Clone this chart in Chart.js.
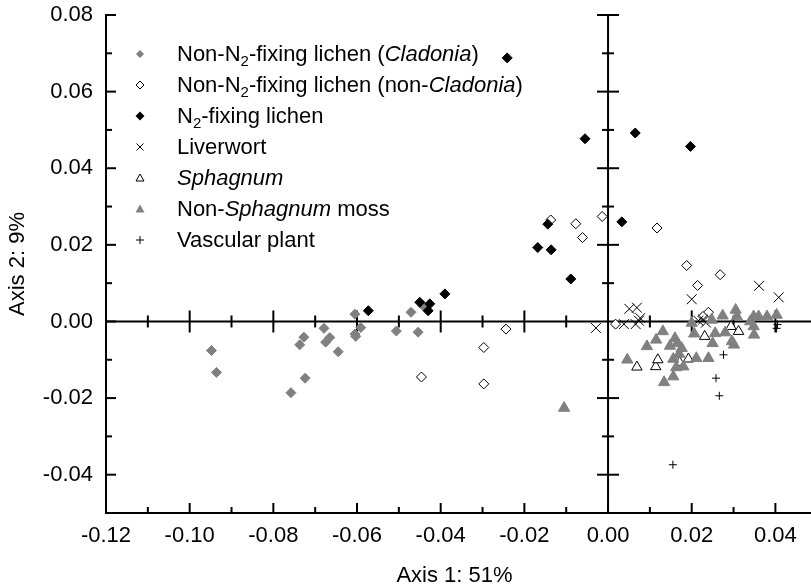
<!DOCTYPE html>
<html lang="en">
<head>
<meta charset="UTF-8">
<title>Ordination – Axis 1 vs Axis 2</title>
<script src="https://cdn.jsdelivr.net/npm/chart.js"></script>
<style>
  body { margin: 0; background: #fff; }
  #wrap { position: relative; width: 811px; height: 585px; font-family: "Liberation Sans", Arial, sans-serif; }
  #legend { position: absolute; left: 0; top: 38px; font-size: 22px; color: #000; }
  #legend .row { position: relative; height: 31px; line-height: 31px; white-space: nowrap; }
  #legend svg { position: absolute; left: 133px; top: 9px; }
  #legend span { position: absolute; left: 177px; }
  #legend sub { font-size: 15px; vertical-align: -5px; line-height: 0; }
</style>
</head>
<body>
<div id="wrap">
  <canvas id="chart" width="811" height="585"></canvas>
  <div id="legend">
    <div class="row"><svg width="14" height="14"><path d="M7 3 L11 7 L7 11 L3 7 Z" fill="#808080"/></svg><span>Non-N<sub>2</sub>-fixing lichen (<i>Cladonia</i>)</span></div>
    <div class="row"><svg width="14" height="14"><path d="M7 3 L11 7 L7 11 L3 7 Z" fill="#fff" stroke="#000" stroke-width="1"/></svg><span>Non-N<sub>2</sub>-fixing lichen (non-<i>Cladonia</i>)</span></div>
    <div class="row"><svg width="14" height="14"><path d="M7 2.5 L11.5 7 L7 11.5 L2.5 7 Z" fill="#000"/></svg><span>N<sub>2</sub>-fixing lichen</span></div>
    <div class="row"><svg width="14" height="14"><path d="M3.5 3.5 L10.5 10.5 M10.5 3.5 L3.5 10.5" stroke="#000" stroke-width="1"/></svg><span>Liverwort</span></div>
    <div class="row"><svg width="14" height="14"><path d="M7 3 L11 10 L3 10 Z" fill="#fff" stroke="#000" stroke-width="1"/></svg><span><i>Sphagnum</i></span></div>
    <div class="row"><svg width="14" height="14"><path d="M7 2.5 L11.5 10.5 L2.5 10.5 Z" fill="#808080"/></svg><span>Non-<i>Sphagnum</i> moss</span></div>
    <div class="row"><svg width="14" height="14"><path d="M7 3 L7 11 M3 7 L11 7" stroke="#000" stroke-width="1"/></svg><span>Vascular plant</span></div>
  </div>
</div>
<script>
// tick labels
const xTicks = [-0.12, -0.10, -0.08, -0.06, -0.04, -0.02, 0.00, 0.02, 0.04];
const yTicks = [-0.04, -0.02, 0.00, 0.02, 0.04, 0.06, 0.08];

// scores: [axis1, axis2]
const cladonia = [
  [-0.0948, -0.0076], [-0.0936, -0.0133], [-0.0758, -0.0186], [-0.0724, -0.0148],
  [-0.0737, -0.0061], [-0.0727, -0.0041], [-0.0679, -0.0018], [-0.0675, -0.0054],
  [-0.0665, -0.0042], [-0.0645, -0.0079], [-0.0605, 0.0019], [-0.0591, -0.0016],
  [-0.0605, -0.0033], [-0.0603, -0.0039], [-0.0506, -0.0025], [-0.0471, 0.0024],
  [-0.0454, -0.0028], [-0.0442, 0.0041]
];
const nonCladonia = [
  [-0.0446, -0.0145], [-0.0297, -0.0068], [-0.0297, -0.0163], [-0.0244, -0.0020],
  [-0.0137, 0.0265], [-0.0077, 0.0255], [-0.0061, 0.0219], [-0.0014, 0.0274],
  [0.0018, -0.0007], [0.0117, 0.0244], [0.0188, 0.0146], [0.0268, 0.0122],
  [0.0214, 0.0094], [0.0240, 0.0024], [0.0227, 0.0013]
];
const n2Fixing = [
  [-0.0573, 0.0028], [-0.0450, 0.0050], [-0.0426, 0.0046], [-0.0430, 0.0028],
  [-0.0390, 0.0072], [-0.0241, 0.0688], [-0.0168, 0.0193], [-0.0136, 0.0187],
  [-0.0144, 0.0254], [-0.0089, 0.0111], [-0.0055, 0.0477], [0.0033, 0.0260],
  [0.0065, 0.0492], [0.0197, 0.0457]
];
const liverwort = [
  [-0.0029, -0.0017], [0.0051, 0.0033], [0.0069, 0.0036], [0.0077, 0.0009],
  [0.0038, -0.0007], [0.0066, -0.0007], [0.0074, 0.0002], [0.0200, 0.0058],
  [0.0216, 0.0002], [0.0234, -0.0003], [0.0227, 0.0005], [0.0361, 0.0093],
  [0.0408, 0.0063]
];
const sphagnum = [
  [0.0069, -0.0119], [0.0114, -0.0118], [0.0119, -0.0100], [0.0171, -0.0107],
  [0.0192, -0.0098], [0.0231, -0.0039], [0.0294, -0.0013], [0.0312, -0.0026]
];
const moss = [
  [-0.0105, -0.0226], [0.0046, -0.0100], [0.0093, -0.0065], [0.0115, -0.0048],
  [0.0131, -0.0026], [0.0134, -0.0159], [0.0156, -0.0144], [0.0160, -0.0044],
  [0.0148, -0.0064], [0.0166, -0.0057], [0.0176, -0.0070], [0.0156, -0.0098],
  [0.0180, -0.0118], [0.0211, -0.0096], [0.0200, -0.0004], [0.0206, -0.0032],
  [0.0240, -0.0096], [0.0250, -0.0057], [0.0256, -0.0031], [0.0248, 0.0004],
  [0.0274, 0.0015], [0.0280, -0.0029], [0.0296, -0.0052], [0.0301, -0.0061],
  [0.0305, 0.0030], [0.0308, 0.0013], [0.0348, 0.0013], [0.0348, -0.0013],
  [0.0349, -0.0035], [0.0360, 0.0013], [0.0380, 0.0013], [0.0403, 0.0017],
  [0.0340, 0.0000], [0.0163, -0.0120], [0.0170, -0.0085]
];
const vascular = [
  [0.0276, -0.0087], [0.0258, -0.0148], [0.0266, -0.0194], [0.0403, -0.0018],
  [0.0405, -0.0008], [0.0155, -0.0374]
];

const GREY = '#808080';
const FONT = '"Liberation Sans", Arial, sans-serif';

function pts(arr) { return arr.map(p => ({ x: p[0], y: p[1] })); }

const series = [
  { label: 'Non-N2-fixing lichen (Cladonia)', data: pts(cladonia), pointStyle: 'rectRot', pointRadius: 5, backgroundColor: GREY, borderColor: GREY, borderWidth: 1 },
  { label: 'Non-N2-fixing lichen (non-Cladonia)', data: pts(nonCladonia), pointStyle: 'rectRot', pointRadius: 5, backgroundColor: '#fff', borderColor: '#000', borderWidth: 1 },
  { label: 'N2-fixing lichen', data: pts(n2Fixing), pointStyle: 'rectRot', pointRadius: 5, backgroundColor: '#000', borderColor: '#000', borderWidth: 1 },
  { label: 'Liverwort', data: pts(liverwort), pointStyle: 'crossRot', pointRadius: 7, backgroundColor: '#000', borderColor: '#000', borderWidth: 1 },
  { label: 'Sphagnum', data: pts(sphagnum), pointStyle: 'triangle', pointRadius: 6, backgroundColor: '#fff', borderColor: '#000', borderWidth: 1 },
  { label: 'Non-Sphagnum moss', data: pts(moss), pointStyle: 'triangle', pointRadius: 6.5, backgroundColor: GREY, borderColor: GREY, borderWidth: 1 },
  { label: 'Vascular plant', data: pts(vascular), pointStyle: 'cross', pointRadius: 4, backgroundColor: '#000', borderColor: '#000', borderWidth: 1 }
];
// later series are painted over earlier ones
series.forEach((s, i) => { s.order = 10 - i; s.pointHoverRadius = s.pointRadius; });

// axes, zero lines and in-pointing tick marks (horizontal lines run to the canvas edge)
const axisLines = {
  id: 'axisLines',
  beforeDatasetsDraw(chart) {
    const { ctx, chartArea: a, scales: { x, y } } = chart;
    const right = chart.width;
    const x0 = x.getPixelForValue(0), y0 = y.getPixelForValue(0);
    const seg = (x1, y1, x2, y2) => { ctx.beginPath(); ctx.moveTo(x1, y1); ctx.lineTo(x2, y2); ctx.stroke(); };
    const mid = t => t.slice(1).map((v, i) => (v + t[i]) / 2);
    ctx.save();
    ctx.strokeStyle = '#000';
    ctx.lineWidth = 2;
    seg(a.left, a.top - 1, a.left, a.bottom + 1);
    seg(a.left, a.bottom, right, a.bottom);
    seg(x0, a.top - 1, x0, a.bottom);
    seg(a.left, y0, right, y0);

    const xMinor = mid(xTicks).concat([0.05]);
    const yMinor = [-0.05].concat(mid(yTicks));
    xTicks.forEach(v => {
      const px = x.getPixelForValue(v);
      if (v === xTicks[0]) return;
      seg(px, a.bottom, px, a.bottom - 10);
      if (v !== 0) seg(px, y0 - 11, px, y0 + 11);
    });
    xMinor.forEach(v => {
      const px = x.getPixelForValue(v);
      if (px > right) return;
      seg(px, a.bottom, px, a.bottom - 6);
      seg(px, y0 - 6, px, y0 + 6);
    });
    yTicks.forEach(v => {
      const py = y.getPixelForValue(v);
      seg(a.left, py, a.left + 10, py);
      if (v !== 0) seg(x0 - 11, py, x0 + 11, py);
    });
    yMinor.forEach(v => {
      const py = y.getPixelForValue(v);
      if (py >= a.bottom - 1) return;
      seg(a.left, py, a.left + 6, py);
      seg(x0 - 6, py, x0 + 6, py);
    });
    ctx.restore();
  }
};

new Chart(document.getElementById('chart').getContext('2d'), {
  type: 'scatter',
  data: { datasets: series },
  options: {
    responsive: false,
    animation: false,
    layout: { padding: { top: 15, right: 0, left: 0, bottom: 0 } },
    plugins: { legend: { display: false }, tooltip: { enabled: false } },
    scales: {
      x: {
        type: 'linear',
        min: -0.12,
        max: 0.0466,
        afterBuildTicks: s => { s.ticks = xTicks.map(v => ({ value: v })); },
        afterFit: s => { s.height = 72; s.paddingRight = 0; s.paddingLeft = 0; },
        grid: { display: false, drawTicks: true, tickLength: 10 },
        border: { display: false },
        ticks: { color: '#000', padding: 0, maxRotation: 0, font: { family: FONT, size: 22 }, callback: v => v.toFixed(2) },
        title: { display: true, text: 'Axis 1: 51%', color: '#000', padding: 0, font: { family: FONT, size: 22, lineHeight: 0.8 } }
      },
      y: {
        type: 'linear',
        min: -0.05,
        max: 0.08,
        afterBuildTicks: s => { s.ticks = yTicks.map(v => ({ value: v })); },
        afterFit: s => { s.width = 106; },
        grid: { display: false, drawTicks: true, tickLength: 13 },
        border: { display: false },
        ticks: { color: '#000', padding: 0, font: { family: FONT, size: 22 }, callback: v => v.toFixed(2) },
        title: { display: true, text: 'Axis 2: 9%', color: '#000', padding: 7, font: { family: FONT, size: 22, lineHeight: 1 } }
      }
    }
  },
  plugins: [axisLines]
});
</script>
</body>
</html>
